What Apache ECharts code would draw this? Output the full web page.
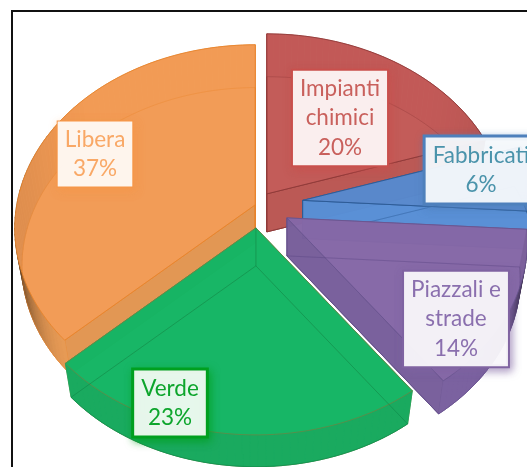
<!DOCTYPE html>
<html>
<head>
	<meta charset="UTF-8">
	<title>Aree</title>
	<style>
		html, body { margin: 0; padding: 0; background: #fff; overflow: hidden; }
		#container { width: 527px; height: 467px; }
	</style>
</head>
<body>
<div id="container"></div>
<script src="https://cdn.jsdelivr.net/npm/echarts@6/dist/echarts.min.js"></script>
<script>
	// data
	var categories = ['Impianti\nchimici', 'Fabbricati', 'Piazzali e\nstrade', 'Verde', 'Libera'];
	var sliceValues = [20, 6, 14, 23, 37];

	// slice look
	var topColors = ['#C25A57', '#5787CB', '#8669A8', '#14B765', '#F49B55'];
	var wallColors = ['#BF5A56', '#5B92DC', '#7B62A0', '#1AAA5F', '#E79A55'];
	var edgeColors = ['#8E3A38', '#2C5A94', '#6A5590', '#5F8B47', '#E8842C'];
	var ghostColors = ['#8E3A38', '#2C5A94', '#5A4580', '#06703A', '#E8842C'];
	var textColors = ['#C9605C', '#4A93AB', '#8A6FAE', '#0DA52C', '#F9A866'];
	var boxColors = ['#C9504D', '#4F81BD', '#8064A2', '#00A020', '#F79646'];
	var boxWidths = [2, 3, 2, 3, 1];

	// 3d layout
	var centerX = 258, centerY = 206;
	var radiusX = 238.5, radiusY = 180.5, perspective = 0.128;
	var depth = 38, bottomScale = 0.97;
	var explode = [15, 45, 33, 22, 3];
	var lift = [0, 0, 4, 0, 0];
	var paintOrder = [0, 1, 2, 4, 3];
	var labelCenters = [[340, 118], [481, 170], [456, 319], [170, 403], [95, 154]];

	var total = sliceValues.reduce(function (a, b) { return a + b; }, 0);
	var startAngles = [];
	sliceValues.reduce(function (sum, v, i) {
		startAngles[i] = sum / total * Math.PI * 2;
		return sum + v;
	}, 0);

	function apexOf(i, value) {
		var mid = startAngles[i] + value / total * Math.PI;
		return [
			centerX + explode[i] * Math.sin(mid),
			centerY - explode[i] * Math.cos(mid) - lift[i]
		];
	}

	// pie plane -> screen
	function project(apex, angle, low) {
		var u = Math.sin(angle), v = -Math.cos(angle);
		var s = 1 / (1 - perspective * v);
		var m = low ? bottomScale : 1;
		return [
			apex[0] + radiusX * u * s * m,
			apex[1] + radiusY * v * s * m + (low ? depth : 0)
		];
	}

	function arcPoints(apex, a0, a1, low) {
		var n = Math.max(2, Math.ceil((a1 - a0) / 0.03));
		var pts = [];
		for (var k = 0; k <= n; k++) {
			pts.push(project(apex, a0 + (a1 - a0) * k / n, low));
		}
		return pts;
	}

	function darken(hex, f) {
		var n = parseInt(hex.slice(1), 16);
		var r = Math.round((n >> 16 & 255) * f);
		var g = Math.round((n >> 8 & 255) * f);
		var b = Math.round((n & 255) * f);
		return 'rgb(' + r + ',' + g + ',' + b + ')';
	}

	function renderSlice(params, api) {
		var i = params.dataIndex;
		var value = api.value(0);
		var a0 = startAngles[i];
		var a1 = a0 + value / total * Math.PI * 2;
		var apex = apexOf(i, value);
		var base = [apex[0], apex[1] + depth];
		var z = paintOrder[i] * 10;
		var children = [];

		function poly(points, fill, stroke, opacity, width) {
			children.push({
				type: 'polygon',
				z2: z + children.length * 0.01,
				shape: { points: points },
				style: { fill: fill, stroke: stroke, lineWidth: width, opacity: opacity }
			});
		}

		var top = arcPoints(apex, a0, a1, false);
		var bottom = arcPoints(apex, a0, a1, true);

		// bottom face
		poly([base].concat(bottom), wallColors[i], edgeColors[i], 0.9, 1);

		// radial walls
		poly([apex, top[0], bottom[0], base], darken(wallColors[i], 0.97), edgeColors[i], 0.88, 1);
		poly([apex, top[top.length - 1], bottom[bottom.length - 1], base], darken(wallColors[i], 0.97), edgeColors[i], 0.88, 1);

		// outer wall, darker towards the sides
		for (var k = 0; k < top.length - 1; k++) {
			var a = a0 + (a1 - a0) * (k + 0.5) / (top.length - 1);
			var side = Math.max(0, (Math.abs(Math.sin(a)) - 0.72) / 0.28);
			var shade = 1 - 0.62 * side * side;
			var col = darken(wallColors[i], shade);
			poly([top[k], top[k + 1], bottom[k + 1], bottom[k]], col, col, 1, 0.6);
		}

		// top face
		poly([apex].concat(top), topColors[i], edgeColors[i], 0.87, 1);

		// bottom outline seen through the top
		poly([base].concat(bottom), 'none', ghostColors[i], 0.35, 1);
		children.push({
			type: 'line',
			z2: z + children.length * 0.01,
			shape: { x1: apex[0], y1: apex[1], x2: base[0], y2: base[1] },
			style: { stroke: ghostColors[i], lineWidth: 1, opacity: 0.35 }
		});

		return { type: 'group', children: children };
	}

	function renderLabel(params, api) {
		var i = params.dataIndex;
		return {
			type: 'text',
			z2: 100,
			x: labelCenters[i][0],
			y: labelCenters[i][1],
			style: {
				text: categories[i] + '\n' + api.value(0) + '%',
				font: '22.5px Lato',
				lineHeight: 29.5,
				align: 'center',
				verticalAlign: 'middle',
				fill: textColors[i],
				backgroundColor: 'rgba(255,255,255,0.9)',
				borderColor: boxColors[i],
				borderWidth: boxWidths[i],
				padding: [3, 7],
				shadowColor: boxColors[i] + 'AA',
				shadowBlur: 8,
				shadowOffsetX: 2,
				shadowOffsetY: 3
			}
		};
	}

	var dom = document.getElementById('container');
	var myChart = echarts.init(dom);
	var option = {
		animation: false,
		backgroundColor: '#fff',
		graphic: [{
			type: 'rect',
			silent: true,
			z: -1,
			shape: { x: 12, y: 11, width: 700, height: 600 },
			style: { fill: '#fff', stroke: '#111', lineWidth: 2 }
		}],
		series: [
			{
				type: 'custom',
				coordinateSystem: 'none',
				silent: true,
				z: 2,
				renderItem: renderSlice,
				data: sliceValues
			},
			{
				type: 'custom',
				coordinateSystem: 'none',
				silent: true,
				z: 3,
				renderItem: renderLabel,
				data: sliceValues
			}
		]
	};
	myChart.setOption(option);
</script>
</body>
</html>
